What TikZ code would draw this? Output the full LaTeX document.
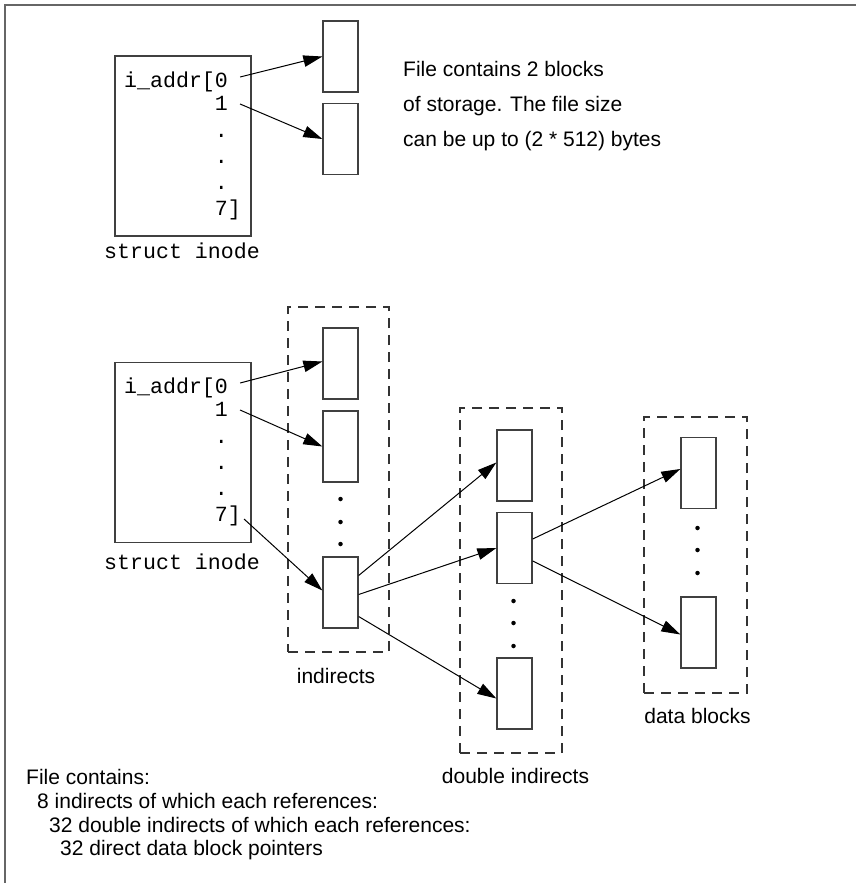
\documentclass[tikz,border=0pt]{standalone}
\usepackage{fontspec}
\setmainfont{Liberation Sans}
\setmonofont{Liberation Mono}
\usetikzlibrary{arrows.meta, positioning, calc}

\begin{document}
\begin{tikzpicture}[
    x=1pt, y=-1pt,
    blk/.style={rectangle, draw=black!75, line width=1.3pt, minimum width=35pt, minimum height=71pt, inner sep=0pt},
    inode/.style={rectangle, draw=black!75, line width=1.3pt, minimum width=136pt, minimum height=180pt, inner sep=0pt},
    group/.style={rectangle, draw=black!80, line width=1.2pt, dash pattern=on 10pt off 7pt, inner sep=0pt},
    mono/.style={inner sep=0pt, anchor=base west, font=\fontsize{21.6}{26}\ttfamily},
    ilabel/.style={inner sep=0pt, anchor=base, font=\fontsize{21.6}{26}\ttfamily},
    lbl/.style={inner sep=0pt, anchor=base, font=\fontsize{21}{25}\selectfont},
    txt/.style={inner sep=0pt, anchor=base west, font=\fontsize{21}{25}\selectfont},
    dot/.style={circle, fill=black, inner sep=0pt, minimum size=4.5pt},
    arrow/.style={line width=1pt, -{Triangle[length=19pt,width=11.5pt]}}
]
\useasboundingbox (0,0) rectangle (856,883);
\draw[black!60, line width=2pt] (5,883) -- (5,5) -- (856,5);

% Small file
\node [inode] (inodeA) at (183,146) {};
\node [mono] (ta0) at (124,87) {i\_addr[0};
\node [mono] (ta1) at (214.7,110) {1};
\node [mono] (ta2) at (214.7,137) {.};
\node [mono] (ta3) at (214.7,163) {.};
\node [mono] (ta4) at (214.7,189) {.};
\node [mono] (ta7) at (214.7,215) {7]};
\node [ilabel] (inodeAlbl) at (182,258) {struct inode};
\node [blk] (blkA1) at (340.5,56.5) {};
\node [blk] (blkA2) at (340.5,139) {};
\node [txt] (note1) at (403,77) {File contains 2 blocks};
\node [txt] (note2) at (403,111) {of storage. The file size};
\node [txt] (note3) at (403,146) {can be up to (2 * 512) bytes};

\draw [arrow] ([shift={(12pt,10pt)}]ta0.base east) -- (blkA1.west);
\draw [arrow] ([shift={(12pt,6pt)}]ta1.base east) -- (blkA2.west);

% Large file
\node [inode] (inodeB) at (183,452.5) {};
\node [mono] (tb0) at (124,393) {i\_addr[0};
\node [mono] (tb1) at (214.7,416) {1};
\node [mono] (tb2) at (214.7,443) {.};
\node [mono] (tb3) at (214.7,469) {.};
\node [mono] (tb4) at (214.7,495) {.};
\node [mono] (tb7) at (214.7,521) {7]};
\node [ilabel] (inodeBlbl) at (182,569) {struct inode};

\node [group, minimum width=101pt, minimum height=345pt] (indgrp) at (338.5,479.5) {};
\node [blk] (ind1) at (340.5,363.5) {};
\node [blk] (ind2) at (340.5,446.5) {};
\node [blk] (ind8) at (340.5,592.5) {};
\foreach \y/\n in {499/1,522/2,544/3}
    \node [dot] (idot\n) at (340.5,\y) {};
\node [lbl] (indlbl) at (336,683) {indirects};

\node [group, minimum width=102pt, minimum height=345pt] (dblgrp) at (511,580.5) {};
\node [blk] (dbl1) at (514.5,465.5) {};
\node [blk] (dbl2) at (514.5,548) {};
\node [blk] (dbl32) at (514.5,693.5) {};
\foreach \y/\n in {601/1,623/2,646/3}
    \node [dot] (ddot\n) at (513.5,\y) {};
\node [lbl] (dbllbl) at (515.5,783) {double indirects};

\node [group, minimum width=103pt, minimum height=276pt] (datgrp) at (695.5,555) {};
\node [blk] (dat1) at (698.5,473) {};
\node [blk] (dat32) at (698.5,632.5) {};
\foreach \y/\n in {528/1,550/2,573/3}
    \node [dot] (bdot\n) at (697.5,\y) {};
\node [lbl] (datlbl) at (697.5,723) {data blocks};

\draw [arrow] ([shift={(12pt,10pt)}]tb0.base east) -- ([yshift=2pt]ind1.west);
\draw [arrow] ([shift={(12pt,6pt)}]tb1.base east) -- (ind2.west);
\draw [arrow] ([shift={(3pt,2pt)}]tb7.base east) -- ([yshift=2pt]ind8.west);
\draw [arrow] ([yshift=17pt]ind8.east) -- ([yshift=3pt]dbl1.west);
\draw [arrow] ([yshift=-2pt]ind8.east) -- (dbl2.west);
\draw [arrow] ([yshift=-24pt]ind8.east) -- ([yshift=-5pt]dbl32.west);
\draw [arrow] ([yshift=9pt]dbl2.east) -- ([yshift=4pt]dat1.west);
\draw [arrow] ([yshift=-13pt]dbl2.east) -- ([yshift=-2pt]dat32.west);

% Summary
\node [txt] (sum1) at (26,784) {File contains:};
\node [txt] (sum2) at (37,808) {8 indirects of which each references:};
\node [txt] (sum3) at (49,832) {32 double indirects of which each references:};
\node [txt] (sum4) at (60,855) {32 direct data block pointers};
\end{tikzpicture}
\end{document}
